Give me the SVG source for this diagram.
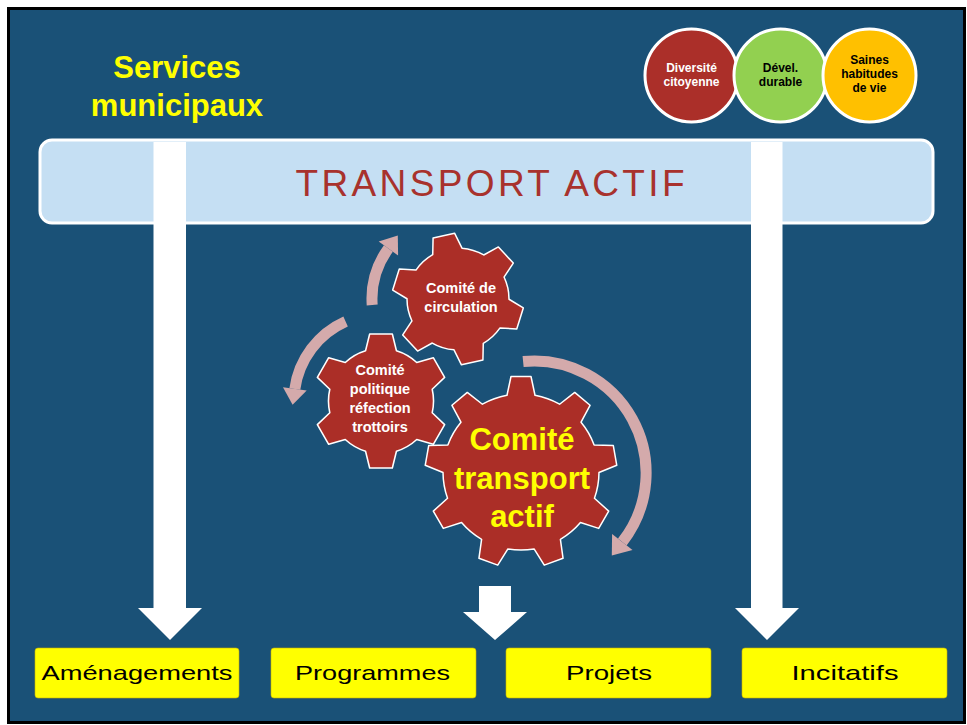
<svg xmlns="http://www.w3.org/2000/svg" width="967" height="725" viewBox="0 0 967 725">
<defs>
<style>
.bold{font-family:"Liberation Sans",Arial,sans-serif;font-weight:bold;text-anchor:middle}
.reg{font-family:"Liberation Sans",Arial,sans-serif;text-anchor:middle}
.gear{fill:#ab2e27;stroke:#ffffff;stroke-width:1.5;stroke-linejoin:round}
.circ{stroke:#ffffff;stroke-width:3}
.wa{fill:#ffffff}
.arc{fill:none;stroke:#d4aaab;stroke-width:11}
.ah{fill:#d4aaab}
.box{fill:#ffff00;stroke:#c9b400;stroke-width:0.6}
</style>
<path id="gear6" d="M48.74,-15 L65,-11 L65,11 L48.74,15 A51,51 0 0 1 37.36,34.71 L42.03,50.79 L22.97,61.79 L11.38,49.71 A51,51 0 0 1 -11.38,49.71 L-22.97,61.79 L-42.03,50.79 L-37.36,34.71 A51,51 0 0 1 -48.74,15 L-65,11 L-65,-11 L-48.74,-15 A51,51 0 0 1 -37.36,-34.71 L-42.03,-50.79 L-22.97,-61.79 L-11.38,-49.71 A51,51 0 0 1 11.38,-49.71 L22.97,-61.79 L42.03,-50.79 L37.36,-34.71 A51,51 0 0 1 48.74,-15 Z"/>
<path id="gear9" d="M-14,-76.73 L-10,-95.5 L10,-95.5 L14,-76.73 A78,78 0 0 1 38.6,-67.78 L53.73,-79.58 L69.05,-66.72 L60.04,-49.78 A78,78 0 0 1 73.13,-27.11 L92.31,-26.43 L95.79,-6.73 L77.99,0.47 A78,78 0 0 1 73.45,26.25 L87.7,39.09 L77.7,56.41 L59.45,50.49 A78,78 0 0 1 39.4,67.31 L42.06,86.32 L23.26,93.16 L13.08,76.89 A78,78 0 0 1 -13.08,76.89 L-23.26,93.16 L-42.06,86.32 L-39.4,67.31 A78,78 0 0 1 -59.45,50.49 L-77.7,56.41 L-87.7,39.09 L-73.45,26.25 A78,78 0 0 1 -77.99,0.47 L-95.79,-6.73 L-92.31,-26.43 L-73.13,-27.11 A78,78 0 0 1 -60.04,-49.78 L-69.05,-66.72 L-53.73,-79.58 L-38.6,-67.78 A78,78 0 0 1 -14,-76.73 Z"/>
</defs>
<rect x="0" y="0" width="967" height="725" fill="#ffffff"/>
<rect x="8.5" y="8.5" width="956" height="714" fill="#1a5177" stroke="#000000" stroke-width="3"/>

<g id="title">
<text class="bold" x="177" y="78" font-size="31" fill="#ffff00">Services</text>
<text class="bold" x="177" y="116" font-size="31" fill="#ffff00">municipaux</text>
</g>

<g id="values">
<g id="diversite">
<circle class="circ" cx="691.5" cy="75.5" r="46.5" fill="#ab2f29"/>
<text class="bold" x="691.5" y="71.5" font-size="12" fill="#ffffff">Diversité</text>
<text class="bold" x="691.5" y="85.5" font-size="12" fill="#ffffff">citoyenne</text>
</g>
<g id="devel">
<circle class="circ" cx="780.5" cy="75.5" r="46.5" fill="#92d050"/>
<text class="bold" x="780.5" y="71.5" font-size="12" fill="#000000">Dével.</text>
<text class="bold" x="780.5" y="85.5" font-size="12" fill="#000000">durable</text>
</g>
<g id="saines">
<circle class="circ" cx="869.5" cy="75.5" r="46.5" fill="#ffc000"/>
<text class="bold" x="869.5" y="64" font-size="12" fill="#000000">Saines</text>
<text class="bold" x="869.5" y="78" font-size="12" fill="#000000">habitudes</text>
<text class="bold" x="869.5" y="92" font-size="12" fill="#000000">de vie</text>
</g>
</g>

<g id="transport-actif">
<rect x="40" y="140" width="893" height="83" rx="12" ry="12" fill="#c5dff3" stroke="#ffffff" stroke-width="3"/>
<text class="reg" x="490" y="196" font-size="37" fill="#a8322d" textLength="389" lengthAdjust="spacing">TRANSPORT ACTIF</text>
</g>

<g id="connectors">
<polygon class="wa" points="153.5,142 186,142 186,608 202,608 170,640 138,608 153.5,608"/>
<polygon class="wa" points="751,142 782.5,142 782.5,608 799,608 767,640 735,608 751,608"/>
<polygon class="wa" points="479,586 511,586 511,612 527,612 495,640 463,612 479,612"/>
<path class="arc" d="M372.2,305 A86,86 0 0 1 388.4,248.4"/>
<polygon class="ah" points="378.7,241.4 397.8,235.5 398.1,255.5"/>
<path class="arc" d="M345.6,321.5 A87,87 0 0 0 294.85,388.9"/>
<polygon class="ah" points="282.97,387.2 292.6,404.7 306.7,390.6"/>
<path class="arc" d="M523.1,361.5 A112,112 0 0 1 622.3,542"/>
<polygon class="ah" points="632.5,550 611.8,555.4 612.1,534"/>
</g>

<g id="gear-circulation">
<use href="#gear6" class="gear" transform="translate(458,299) rotate(17.4)"/>
<text class="bold" x="461" y="293" font-size="14.5" fill="#ffffff">Comité de</text>
<text class="bold" x="461" y="312" font-size="14.5" fill="#ffffff">circulation</text>
</g>

<g id="gear-politique">
<use href="#gear6" class="gear" transform="translate(381,401) rotate(30) scale(1.03)"/>
<text class="bold" x="380" y="375" font-size="14.5" fill="#ffffff">Comité</text>
<text class="bold" x="380" y="394" font-size="14.5" fill="#ffffff">politique</text>
<text class="bold" x="380" y="413" font-size="14.5" fill="#ffffff">réfection</text>
<text class="bold" x="380" y="432" font-size="14.5" fill="#ffffff">trottoirs</text>
</g>

<g id="gear-transport">
<use href="#gear9" class="gear" transform="translate(521,472)"/>
<text class="bold" x="522" y="450" font-size="31" fill="#ffff00">Comité</text>
<text class="bold" x="522" y="489" font-size="31" fill="#ffff00">transport</text>
<text class="bold" x="522" y="527" font-size="31" fill="#ffff00">actif</text>
</g>

<g id="amenagements">
<rect class="box" x="35" y="648" width="204" height="50" rx="3"/>
<text class="reg" x="137" y="680" font-size="21" fill="#000000" textLength="191" lengthAdjust="spacingAndGlyphs">Aménagements</text>
</g>
<g id="programmes">
<rect class="box" x="271" y="648" width="205" height="50" rx="3"/>
<text class="reg" x="372.5" y="680" font-size="21" fill="#000000" textLength="155" lengthAdjust="spacingAndGlyphs">Programmes</text>
</g>
<g id="projets">
<rect class="box" x="506" y="648" width="205" height="50" rx="3"/>
<text class="reg" x="609" y="680" font-size="21" fill="#000000" textLength="86" lengthAdjust="spacingAndGlyphs">Projets</text>
</g>
<g id="incitatifs">
<rect class="box" x="742" y="648" width="205" height="50" rx="3"/>
<text class="reg" x="845" y="680" font-size="21" fill="#000000" textLength="107" lengthAdjust="spacingAndGlyphs">Incitatifs</text>
</g>
</svg>
